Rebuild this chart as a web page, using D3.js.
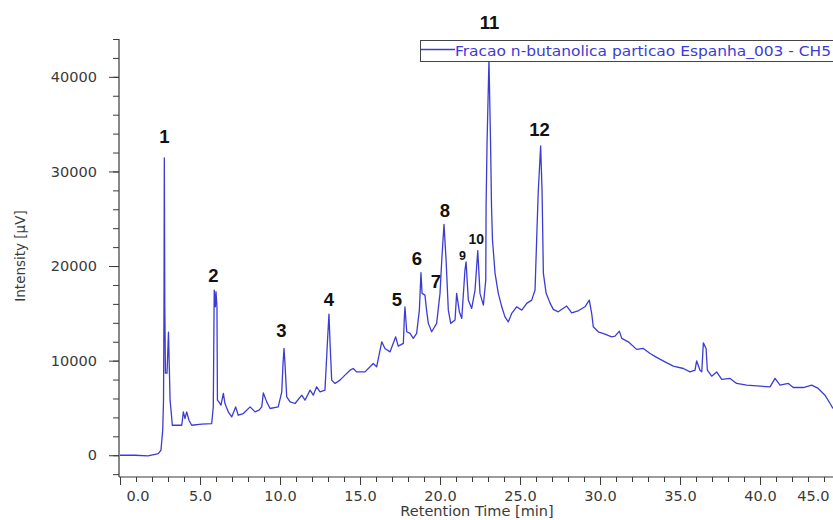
<!DOCTYPE html>
<html>
<head>
<meta charset="utf-8">
<script src="https://cdn.jsdelivr.net/npm/d3@7/dist/d3.min.js"></script>
<style>
  html, body { margin: 0; padding: 0; background: #fff; }
  svg { display: block; }
</style>
</head>
<body>
<svg id="chart" width="833" height="520"></svg>
<script>
// Retention time (min) of each sampled point of the CH5 trace
const retentionTimes = [
  0, 0.94, 1.75, 2.19, 2.39, 2.56, 2.67, 2.72, 2.75, 2.77,
  2.8, 2.84, 2.94, 3.03, 3.09, 3.13, 3.19, 3.27, 3.86, 3.96,
  4.06, 4.17, 4.31, 4.48, 5.11, 5.73, 5.83, 5.88, 5.89, 5.96,
  6.0, 6.06, 6.09, 6.19, 6.31, 6.46, 6.56, 6.77, 6.98, 7.23,
  7.39, 7.71, 8.13, 8.44, 8.69, 8.86, 8.96, 9.17, 9.38, 9.89,
  10.11, 10.19, 10.25, 10.31, 10.42, 10.63, 10.94, 11.36, 11.56, 11.88,
  12.08, 12.29, 12.5, 12.81, 12.96, 13.06, 13.13, 13.23, 13.44, 13.75,
  14.06, 14.38, 14.58, 14.79, 15.31, 15.83, 16.04, 16.36, 16.56, 16.88,
  17.23, 17.39, 17.71, 17.77, 17.81, 17.86, 17.92, 18.13, 18.33, 18.54,
  18.71, 18.81, 18.88, 19.06, 19.16, 19.27, 19.48, 19.79, 20.0, 20.11,
  20.25, 20.38, 20.52, 20.67, 20.94, 21.04, 21.21, 21.36, 21.56, 21.63,
  21.77, 21.98, 22.19, 22.36, 22.5, 22.71, 22.86, 22.88, 22.94, 23.06,
  23.16, 23.22, 23.28, 23.44, 23.64, 23.86, 24.06, 24.27, 24.48, 24.79,
  25.11, 25.42, 25.73, 25.94, 26.04, 26.14, 26.29, 26.38, 26.46, 26.63,
  26.88, 27.08, 27.39, 27.92, 28.23, 28.64, 29.06, 29.33, 29.48, 29.58,
  29.89, 30.31, 30.73, 30.94, 31.21, 31.36, 31.77, 32.29, 32.71, 33.13,
  33.54, 34.06, 34.58, 35.21, 35.63, 35.94, 36.04, 36.25, 36.36, 36.46,
  36.63, 36.71, 36.98, 37.29, 37.61, 38.13, 38.54, 39.17, 40.0, 40.63,
  40.94, 41.25, 41.77, 42.08, 42.71, 43.23, 43.64, 44.06, 44.38, 44.56
];

// Detector response (µV) at each retention time above
const intensities = [
  0, 0, -70, 100, 180, 530, 2650, 5820, 15690, 31430,
  15690, 8680, 8680, 13020, 8680, 5820, 4760, 3170, 3170, 4580,
  3880, 4580, 3700, 3170, 3280, 3350, 5110, 15690, 17460, 15690,
  17280, 15690, 5820, 5610, 5290, 6530, 5470, 4580, 4050, 5110,
  4230, 4410, 5110, 4580, 4760, 5110, 6590, 5640, 4940, 5110,
  6700, 9740, 11290, 9740, 6170, 5640, 5470, 6350, 5820, 6880,
  6350, 7230, 6700, 6880, 11820, 14920, 11820, 7940, 7590, 7940,
  8470, 8990, 9170, 8810, 8810, 9700, 9340, 11990, 11290, 10930,
  12520, 11530, 11820, 14500, 15690, 14500, 13050, 12880, 12350, 12880,
  15340, 19290, 17110, 16930, 15340, 13940, 13050, 13940, 17110, 20630,
  24410, 20630, 15340, 13940, 14290, 17110, 15160, 14460, 19580, 20450,
  16400, 15520, 17460, 21620, 17110, 15870, 18520, 26270, 32980, 41800,
  32980, 26270, 22750, 19260, 17140, 15690, 14630, 14100, 14990, 15690,
  15340, 16050, 16400, 17460, 22750, 27830, 32700, 27830, 19260, 17140,
  16080, 15420, 15160, 15770, 15060, 15270, 15690, 16400, 14990, 13580,
  13050, 12800, 12520, 12590, 13120, 12350, 11990, 11190, 11290, 10760,
  10340, 9870, 9420, 9170, 8810, 8990, 9980, 8990, 8810, 11880,
  11290, 8990, 8360, 8810, 8010, 8120, 7590, 7410, 7300, 7230,
  8120, 7410, 7590, 7160, 7160, 7410, 7060, 6350, 5470, 4940
];

// Axis ticks
const xTickValues = [0, 5, 10, 15, 20, 25, 30, 35, 40, 45];
const yTickValues = [0, 10000, 20000, 30000, 40000];

// Numbered peaks: label text and the (time, intensity) point its baseline sits on
const peakIds = ["1", "2", "3", "4", "5", "6", "7", "8", "9", "10", "11", "12"];
const peakLabelTimes = [2.77, 5.84, 10.08, 13.06, 17.31, 18.56, 19.75, 20.31, 21.41, 22.27, 23.09, 26.22];
const peakLabelLevels = [33030, 18340, 12490, 15770, 15770, 20100, 17640, 25210, 20630, 22320, 45020, 33770];

const seriesName = "Fracao n-butanolica particao Espanha_003 - CH5";

const svg = d3.select("#chart");
const W = 833, H = 520;
const traceColor = "#3c3cd4";
const axisColor = "#3a3a3a";
const font = "'DejaVu Sans', Verdana, sans-serif";

const x = d3.scaleLinear().domain([0, 45]).range([120, 840]);
const y = d3.scaleLinear().domain([-2300, 44000]).range([477, 39]);

// Y axis: major ticks every 10000, minor every 2000
const yAxisG = svg.append("g").attr("transform", `translate(${x(0) - 1},0)`);
yAxisG.append("line")
  .attr("x1", 0).attr("x2", 0).attr("y1", y(44000)).attr("y2", y(-2300))
  .attr("stroke", axisColor).attr("stroke-width", 1.2);
yAxisG.call(
  d3.axisLeft(y).tickValues(d3.range(-2000, 44001, 2000)).tickSize(6).tickFormat("")
).call(g => g.select(".domain").remove())
 .call(g => g.selectAll("line").attr("stroke", axisColor));
yAxisG.append("g").call(
  d3.axisLeft(y).tickValues(yTickValues).tickSize(10).tickPadding(12).tickFormat(d3.format("d"))
).call(g => g.select(".domain").remove())
 .call(g => g.selectAll("line").attr("stroke", axisColor))
 .call(g => g.selectAll("text")
   .attr("fill", axisColor)
   .style("font-family", font)
   .style("font-size", "14.5px"));

// X axis: major ticks every 5 min, minor every 1 min
const xAxisG = svg.append("g").attr("transform", `translate(0,477)`);
xAxisG.append("line")
  .attr("x1", x(0) - 1).attr("x2", W).attr("y1", 0).attr("y2", 0)
  .attr("stroke", axisColor).attr("stroke-width", 1.2);
xAxisG.call(
  d3.axisBottom(x).tickValues(d3.range(0, 46, 1)).tickSize(5).tickFormat("")
).call(g => g.select(".domain").remove())
 .call(g => g.selectAll("line").attr("stroke", axisColor));
xAxisG.append("g").call(
  d3.axisBottom(x).tickValues(xTickValues).tickSize(8).tickPadding(6).tickFormat(d3.format(".1f"))
).call(g => g.select(".domain").remove())
 .call(g => g.selectAll("line").attr("stroke", axisColor))
 .call(g => g.selectAll("text")
   .attr("fill", axisColor)
   .style("font-family", font)
   .style("font-size", "14.5px"));

// keep the edge tick labels inside the plotting width
xAxisG.selectAll(".tick").each(function(d) {
  const t = d3.select(this).select("text");
  if (t.empty()) return;
  const bb = t.node().getBBox();
  const cx = x(d);
  const minC = 126 + bb.width / 2, maxC = 829 - bb.width / 2;
  const c = Math.max(minC, Math.min(maxC, cx));
  t.attr("x", c - cx);
});

// Axis titles
svg.append("text")
  .attr("x", 477).attr("y", 516)
  .attr("text-anchor", "middle")
  .attr("fill", axisColor)
  .style("font-family", font).style("font-size", "14.5px")
  .text("Retention Time [min]");

svg.append("text")
  .attr("transform", "translate(25,256) rotate(-90)")
  .attr("text-anchor", "middle")
  .attr("fill", axisColor)
  .style("font-family", font).style("font-size", "13.5px")
  .text("Intensity [µV]");

// Chromatogram trace
const points = retentionTimes.map((t, i) => [t, intensities[i]]);
const line = d3.line().x(d => x(d[0])).y(d => y(d[1])).curve(d3.curveLinear);
svg.append("path")
  .datum(points)
  .attr("d", line)
  .attr("fill", "none")
  .attr("stroke", traceColor)
  .attr("stroke-width", 1.3)
  .attr("stroke-linejoin", "round");

// Legend box
const legend = svg.append("g");
legend.append("rect")
  .attr("x", 420.5).attr("y", 40.5).attr("width", 440).attr("height", 21)
  .attr("fill", "#fff").attr("stroke", "#444").attr("stroke-width", 1);
legend.append("line")
  .attr("x1", 421).attr("x2", 455).attr("y1", 49.5).attr("y2", 49.5)
  .attr("stroke", traceColor).attr("stroke-width", 1.3);
legend.append("text")
  .attr("x", 455).attr("y", 55.5)
  .attr("fill", traceColor)
  .attr("textLength", 376)
  .attr("lengthAdjust", "spacingAndGlyphs")
  .style("font-family", font).style("font-size", "14.5px")
  .text(seriesName);

// Peak numbers
svg.append("g").selectAll("text")
  .data(peakIds)
  .join("text")
  .attr("x", (d, i) => x(peakLabelTimes[i]))
  .attr("y", (d, i) => y(peakLabelLevels[i]))
  .attr("text-anchor", "middle")
  .attr("fill", "#111")
  .style("font-family", "'Liberation Sans', Arial, sans-serif")
  .style("font-weight", "bold")
  .style("font-size", d => d === "9" ? "12.5px" : d === "10" ? "14px" : "18.5px")
  .text(d => d);
</script>
</body>
</html>
